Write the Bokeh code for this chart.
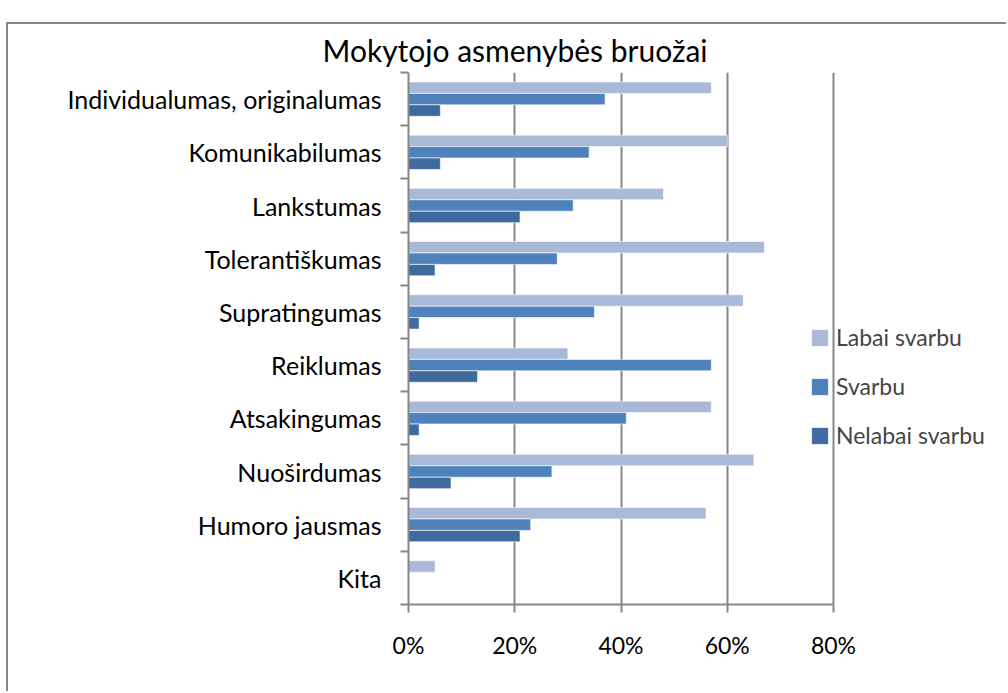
from bokeh.plotting import figure
from bokeh.models import (ColumnDataSource, FixedTicker, NumeralTickFormatter, Legend,
                          LegendItem, Range1d)
from bokeh.embed import file_html
from bokeh.resources import INLINE

# ---- data ----
categories = ["Individualumas, originalumas", "Komunikabilumas", "Lankstumas",
              "Tolerantiškumas", "Supratingumas", "Reiklumas", "Atsakingumas",
              "Nuoširdumas", "Humoro jausmas", "Kita"]
labai_svarbu = [57, 60, 48, 67, 63, 30, 57, 65, 56, 5]
svarbu = [37, 34, 31, 28, 35, 57, 41, 27, 23, 0]
nelabai_svarbu = [6, 6, 21, 5, 2, 13, 2, 8, 21, 0]
series_names = ["Labai svarbu", "Svarbu", "Nelabai svarbu"]
x_ticks = [0, 0.2, 0.4, 0.6, 0.8]
title_text = "Mokytojo asmenybės bruožai"

# ---- styles ----
colors = ["#AAB9D7", "#4F81BD", "#3F6A9E"]
GREY = "#878787"
FONT = "Lato"
n = len(categories)
bar_h = 0.215
offsets = [bar_h, 0.0, -bar_h]

centers = [n - i - 0.5 for i in range(n)]
boundaries = list(range(n + 1))

# frame spans from 0% to the right edge; axis line is bounded to 0..80%
x_max = 0.8 * 600 / 425

p = figure(width=1000, height=669, output_backend="svg", toolbar_location=None,
           x_range=Range1d(0, x_max), y_range=Range1d(0, n),
           min_border_left=400, min_border_right=0, min_border_top=46,
           min_border_bottom=89)
p.margin = (22, 0, 0, 6)
p.styles = {"border-top": f"2px solid {GREY}", "border-left": f"2px solid {GREY}"}

p.title.text = title_text
p.title.text_font = FONT
p.title.text_font_size = "30px"
p.title.text_font_style = "normal"
p.title.text_color = "black"
p.title.align = "left"
p.title.offset = -86

series = [labai_svarbu, svarbu, nelabai_svarbu]
items = []
for name, vals, col, off in zip(series_names, series, colors, offsets):
    src = ColumnDataSource(dict(cat=categories, y=[c + off for c in centers],
                                v=[v / 100 for v in vals]))
    r = p.hbar(y="y", right="v", left=0, height=bar_h, source=src,
               fill_color=col, line_color="white", line_alpha=0.6, line_width=1)
    items.append(LegendItem(label=name, renderers=[r]))

# axes
p.outline_line_color = None
p.ygrid.visible = False
p.xgrid.ticker = FixedTicker(ticks=x_ticks)
p.xgrid.grid_line_color = GREY
p.xgrid.grid_line_width = 2

xa = p.xaxis[0]
xa.ticker = FixedTicker(ticks=x_ticks)
xa.bounds = (0, 0.8)
xa.formatter = NumeralTickFormatter(format="0%")
xa.axis_line_color = GREY
xa.axis_line_width = 2
xa.major_tick_line_color = GREY
xa.major_tick_line_width = 2
xa.major_tick_out = 8
xa.major_tick_in = 0
xa.minor_tick_line_color = None
xa.major_label_standoff = 18
xa.major_label_text_font = FONT
xa.major_label_text_font_size = "23px"
xa.major_label_text_color = "black"

ya = p.yaxis[0]
ya.ticker = FixedTicker(ticks=centers, minor_ticks=boundaries)
ya.major_label_overrides = {c: name for c, name in zip(centers, categories)}
ya.axis_line_color = GREY
ya.axis_line_width = 2
ya.major_tick_line_color = None
ya.major_tick_out = 0
ya.major_tick_in = 0
ya.minor_tick_line_color = GREY
ya.minor_tick_line_width = 2
ya.minor_tick_out = 8
ya.minor_tick_in = 0
ya.major_label_standoff = 19
ya.major_label_text_font = FONT
ya.major_label_text_font_size = "25px"
ya.major_label_text_color = "black"

legend = Legend(items=items, location=(401, 155), padding=0, margin=0,
                border_line_alpha=0, background_fill_alpha=0,
                glyph_width=21, glyph_height=21, label_height=20,
                label_text_font=FONT, label_text_font_size="23px",
                spacing=21, label_standoff=6)
p.add_layout(legend)

open("out.html", "w").write(file_html(p, INLINE))
